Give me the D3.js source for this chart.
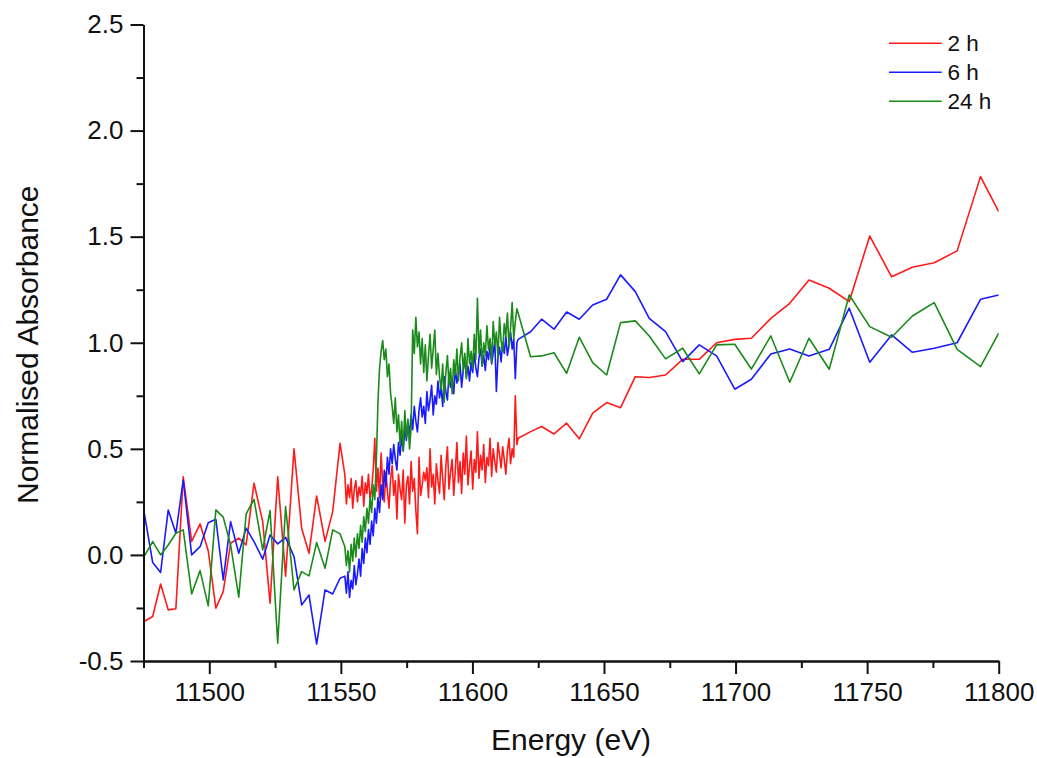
<!DOCTYPE html>
<html>
<head>
<meta charset="utf-8">
<script src="https://cdn.jsdelivr.net/npm/d3@7"></script>
<style>
  html, body { margin: 0; padding: 0; background: #fff; }
  svg { display: block; }
  text { font-family: "Liberation Sans", Arial, sans-serif; fill: #111; }
</style>
</head>
<body>
<svg id="chart" width="1037" height="758"></svg>
<script>
// ---------- data ----------
const seriesNames = ["2 h", "6 h", "24 h"];
const seriesColors = ["#ff1a1a", "#1a1aff", "#1a8a1a"];

const xTicks = [11500, 11550, 11600, 11650, 11700, 11750, 11800];
const yTicks = [-0.5, 0.0, 0.5, 1.0, 1.5, 2.0, 2.5];
const yTickLabels = ["-0.5", "0.0", "0.5", "1.0", "1.5", "2.0", "2.5"];

// pre-edge (coarse scan)
const preEnergy = [11475.2, 11478.5, 11481.5, 11484.4, 11487.3, 11490.1, 11493.3, 11496.5, 11499.6, 11502.5,
  11505.3, 11508.1, 11511.2, 11514.0, 11517.0, 11520.3, 11523.1, 11526.0, 11529.0, 11532.2,
  11535.1, 11537.9, 11540.8, 11544.0, 11546.9, 11549.7];
const pre2h = [-0.314, -0.29, -0.137, -0.259, -0.254, 0.368, 0.064, 0.146, 0.02, -0.251,
  -0.173, 0.055, 0.079, 0.047, 0.338, 0.157, -0.228, 0.368, -0.10, 0.50,
  0.126, 0.008, 0.278, 0.064, 0.204, 0.526];
const pre6h = [0.204, -0.036, -0.083, 0.212, 0.102, 0.353, 0.0, 0.039, 0.152, 0.168,
  -0.118, 0.157, 0.008, 0.126, 0.063, -0.020, 0.094, 0.052, 0.083, -0.008,
  -0.236, -0.189, -0.42, -0.165, -0.184, -0.11];
const pre24h = [-0.008, 0.063, 0.0, 0.047, 0.102, 0.118, -0.184, -0.074, -0.240, 0.212,
  0.178, 0.047, -0.199, 0.193, 0.262, 0.024, 0.209, -0.416, 0.228, -0.165,
  -0.079, -0.099, 0.058, -0.063, 0.118, 0.099];

// edge region (fine scan, evenly spaced energies)
const edgeStart = 11551.5;
const edgeStep = 0.6;
const edge2h = [0.38, 0.24, 0.33, 0.27, 0.36, 0.22, 0.31, 0.35, 0.25, 0.32,
  0.28, 0.37, 0.23, 0.34, 0.29, 0.38, 0.26, 0.31, 0.40, 0.55,
  0.30, 0.41, 0.27, 0.48, 0.33, 0.25, 0.39, 0.30, 0.22, 0.36,
  0.42, 0.28, 0.35, 0.17, 0.38, 0.31, 0.26, 0.40, 0.15, 0.33,
  0.37, 0.24, 0.44, 0.30, 0.36, 0.21, 0.10, 0.46, 0.28, 0.33,
  0.39, 0.35, 0.41, 0.27, 0.50, 0.32, 0.38, 0.24, 0.43, 0.35,
  0.29, 0.47, 0.36, 0.26, 0.42, 0.51, 0.31, 0.39, 0.45, 0.28,
  0.40, 0.53, 0.34, 0.44, 0.29, 0.48, 0.38, 0.56, 0.33, 0.42,
  0.49, 0.31, 0.45, 0.39, 0.58, 0.36, 0.47, 0.40, 0.52, 0.34,
  0.46, 0.42, 0.55, 0.37, 0.50, 0.44, 0.39, 0.53, 0.47, 0.41,
  0.51, 0.45, 0.38, 0.49, 0.55, 0.43, 0.50, 0.46, 0.75, 0.52];
const edge6h = [-0.10, -0.18, -0.08, -0.20, -0.12, -0.16, -0.05, -0.14, -0.09, -0.02,
  -0.10, 0.03, -0.04, 0.08, 0.01, 0.12, 0.05, 0.16, 0.09, 0.22,
  0.15, 0.27, 0.20, 0.33, 0.26, 0.40, 0.32, 0.46, 0.38, 0.50,
  0.43, 0.52, 0.45, 0.40, 0.53, 0.47, 0.56, 0.49, 0.60, 0.54,
  0.62, 0.57, 0.66, 0.59, 0.70, 0.63, 0.58, 0.68, 0.74, 0.65,
  0.70, 0.62, 0.77, 0.68, 0.73, 0.80, 0.66, 0.75, 0.71, 0.82,
  0.74, 0.79, 0.70, 0.84, 0.77, 0.73, 0.86, 0.79, 0.83, 0.76,
  0.88, 0.81, 0.85, 0.90, 0.79, 0.87, 0.93, 0.84, 0.89, 0.82,
  0.91, 0.86, 0.95, 0.88, 0.84, 0.93, 0.97, 0.89, 0.94, 0.87,
  0.96, 0.92, 0.99, 0.90, 0.95, 1.01, 0.77, 0.93, 0.98, 0.91,
  1.00, 0.95, 1.03, 0.94, 0.99, 1.05, 0.97, 1.02, 0.83, 1.00];
const edge24h = [0.04, -0.05, 0.02, -0.08, 0.05, -0.03, 0.08, -0.01, 0.10, 0.03,
  0.14, 0.06, 0.18, 0.11, 0.22, 0.15, 0.27, 0.20, 0.33, 0.26,
  0.45, 0.72, 0.88, 0.96, 1.01, 0.92, 0.97, 0.84, 0.90, 0.76,
  0.70, 0.62, 0.74, 0.58, 0.66, 0.52, 0.63, 0.49, 0.68, 0.55,
  0.64, 0.50, 0.60, 1.06, 0.95, 1.12, 0.98, 1.05, 0.90, 1.02,
  0.86, 0.99, 0.82, 0.94, 1.04, 0.88, 0.97, 1.06, 0.85, 0.95,
  0.84, 0.78, 0.90, 0.72, 0.86, 0.94, 0.80, 0.88, 0.76, 0.92,
  0.85, 0.97, 0.82, 0.93, 1.00, 0.87, 0.95, 0.83, 1.02, 0.90,
  0.96, 0.88, 1.04, 0.92, 1.21, 0.95, 1.06, 0.89, 1.00, 0.94,
  1.08, 0.97, 1.02, 0.91, 1.10, 0.99, 1.05, 0.93, 1.12, 1.01,
  0.96, 1.09, 1.03, 1.14, 0.98, 1.07, 1.19, 1.02, 1.10, 1.16];

// post-edge (coarse scan)
const postEnergy = [11617.4, 11622.1, 11626.3, 11631.0, 11635.8, 11640.6, 11645.7, 11651.0, 11656.3, 11661.9,
  11667.2, 11673.4, 11679.9, 11686.2, 11692.8, 11699.7, 11706.0, 11713.4, 11720.6, 11727.9,
  11735.6, 11743.2, 11751.0, 11759.3, 11767.2, 11775.5, 11784.2, 11793.1, 11800.0];
const post2h = [0.55, 0.581, 0.605, 0.570, 0.621, 0.547, 0.668, 0.718, 0.694, 0.840,
  0.836, 0.848, 0.922, 0.922, 1.0, 1.016, 1.021, 1.115, 1.186, 1.296,
  1.257, 1.194, 1.503, 1.311, 1.356, 1.377, 1.433, 1.783, 1.618];
const post6h = [1.016, 1.052, 1.111, 1.064, 1.145, 1.111, 1.178, 1.205, 1.320, 1.241,
  1.115, 1.052, 0.911, 0.990, 0.938, 0.781, 0.828, 0.947, 0.971, 0.938,
  0.969, 1.163, 0.908, 1.037, 0.955, 0.974, 1.0, 1.205, 1.225];
const post24h = [1.139, 0.934, 0.938, 0.953, 0.856, 1.026, 0.906, 0.848, 1.095, 1.103,
  1.032, 0.924, 0.974, 0.853, 0.990, 0.993, 0.876, 1.032, 0.814, 1.021,
  0.875, 1.225, 1.076, 1.026, 1.126, 1.189, 0.969, 0.887, 1.045];

// ---------- assemble ----------
const edgeEnergy = edge2h.map((_, i) => +(edgeStart + i * edgeStep).toFixed(2));
function build(pre, edge, post) {
  const e = preEnergy.concat(edgeEnergy, postEnergy);
  const v = pre.concat(edge, post);
  return e.map((xv, i) => ({ x: xv, y: v[i] }));
}
const series = [
  build(pre2h, edge2h, post2h),
  build(pre6h, edge6h, post6h),
  build(pre24h, edge24h, post24h)
];

// ---------- layout ----------
const svg = d3.select("#chart");
const pLeft = 143.5, pRight = 998.7, pTop = 24.5, pBottom = 661;
const x = d3.scaleLinear().domain([11475, 11800]).range([pLeft, pRight]);
const y = d3.scaleLinear().domain([-0.5, 2.5]).range([pBottom, pTop]);

svg.append("clipPath").attr("id", "clip")
  .append("rect").attr("x", pLeft).attr("y", pTop - 5).attr("width", pRight - pLeft).attr("height", pBottom - pTop + 5);

const line = d3.line().x(d => x(d.x)).y(d => y(d.y));
const plot = svg.append("g").attr("clip-path", "url(#clip)");
series.forEach((s, i) => {
  plot.append("path").datum(s)
    .attr("fill", "none")
    .attr("stroke", seriesColors[i])
    .attr("stroke-width", 1.6)
    .attr("stroke-linejoin", "round")
    .attr("d", line);
});

// ---------- axes ----------
const xMinor = xTicks.map(t => t - 25);
const yMinor = yTicks.slice(1).map(t => t - 0.25);

const xAxisG = svg.append("g").attr("transform", `translate(0,${pBottom})`);
xAxisG.append("g").call(d3.axisBottom(x).tickValues(xMinor).tickSize(7).tickSizeOuter(0).tickFormat(""));
xAxisG.append("g").call(d3.axisBottom(x).tickValues(xTicks).tickSize(13).tickSizeOuter(0).tickFormat(d3.format("d")).tickPadding(9));

const yAxisG = svg.append("g").attr("transform", `translate(${pLeft},0)`);
yAxisG.append("g").call(d3.axisLeft(y).tickValues(yMinor).tickSize(7).tickSizeOuter(0).tickFormat(""));
yAxisG.append("g").call(d3.axisLeft(y).tickValues(yTicks).tickSize(13).tickSizeOuter(0)
  .tickFormat((d, i) => yTickLabels[i]).tickPadding(7));

svg.selectAll(".domain").attr("stroke", "#111").attr("stroke-width", 2);
svg.selectAll(".tick line").attr("stroke", "#111").attr("stroke-width", 2);
svg.selectAll(".tick text").attr("font-size", 26).attr("fill", "#111")
  .attr("font-family", "'Liberation Sans', Arial, sans-serif");

// axis titles
svg.append("text")
  .attr("x", (pLeft + pRight) / 2).attr("y", 750)
  .attr("text-anchor", "middle").attr("font-size", 30)
  .text("Energy (eV)");
svg.append("text")
  .attr("transform", `translate(38,${(pTop + pBottom) / 2 + 2}) rotate(-90)`)
  .attr("text-anchor", "middle").attr("font-size", 30)
  .text("Normalised Absorbance");

// ---------- legend ----------
const legend = svg.append("g");
seriesNames.forEach((name, i) => {
  const ly = 43.3 + i * 29;
  legend.append("line")
    .attr("x1", 889).attr("x2", 941.7).attr("y1", ly).attr("y2", ly)
    .attr("stroke", seriesColors[i]).attr("stroke-width", 1.6);
  legend.append("text")
    .attr("x", 947.5).attr("y", ly + 8)
    .attr("font-size", 22.5)
    .text(name);
});
</script>
</body>
</html>
